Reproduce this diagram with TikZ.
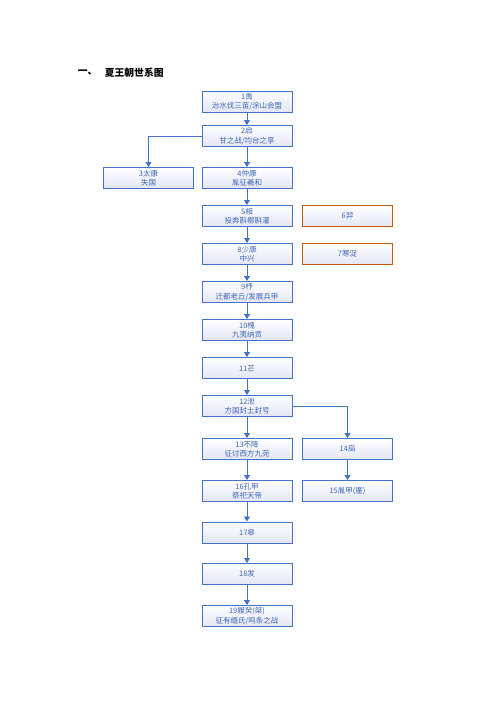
\documentclass[tikz,border=0pt]{standalone}
\usepackage{fontspec}
\newfontfamily\cjk{Noto Sans CJK SC}
\usetikzlibrary{arrows.meta, positioning}
\definecolor{cblue}{HTML}{4472C4}
\definecolor{ctext}{HTML}{4068B8}
\definecolor{corange}{HTML}{C55A11}
\definecolor{cshade}{HTML}{E3E6F2}
\tikzset{
  every picture/.style={line width=1pt},
  king/.style={draw=#1, top color=white, bottom color=cshade, align=center,
    inner sep=0pt, minimum width=90pt, minimum height=21pt, text=ctext,
    font=\cjk\fontsize{7.5}{9.5}\selectfont},
  king/.default=cblue,
  arrow/.style={-{Triangle[length=5pt, width=6pt]}, draw=cblue, line width=0.9pt},
  title/.style={font=\cjk\bfseries\fontsize{9.8}{11}\selectfont, anchor=west},
}
\begin{document}
\begin{tikzpicture}[x=1pt, y=-1pt]
  \useasboundingbox (0,0) rectangle (496,702);
  % title
  \node[title] (t1) at (74,73) {一、};
  \node[title] (t2) at (101,73) {夏王朝世系图};
  % main line
  \node[king] (n1) at (247,101.5) {1禹\\治水伐三苗/涂山会盟};
  \node[king] (n2) at (247,136) {2启\\甘之战/均台之享};
  \node[king] (n3) at (148.5,178) {3太康\\失国};
  \node[king] (n4) at (247,178) {4仲康\\胤征羲和};
  \node[king] (n5) at (247,216) {5相\\投奔斟鄩斟灌};
  \node[king=corange] (n6) at (347.5,216) {6羿};
  \node[king] (n8) at (247,254) {8少康\\中兴};
  \node[king=corange] (n7) at (347.5,254) {7寒浞};
  \node[king] (n9) at (247,292) {9杼\\迁都老丘/发展兵甲};
  \node[king] (n10) at (247,330) {10槐\\九夷纳贡};
  \node[king] (n11) at (247,368) {11芒};
  \node[king] (n12) at (247,406) {12泄\\方国封土封号};
  \node[king] (n13) at (247,449) {13不降\\征讨西方九苑};
  \node[king] (n14) at (347.5,449) {14扃};
  \node[king] (n16) at (247,491) {16孔甲\\祭祀天帝};
  \node[king] (n15) at (347.5,491) {15胤甲(廑)};
  \node[king] (n17) at (247,532.5) {17皋};
  \node[king] (n18) at (247,574) {18发};
  \node[king] (n19) at (247,616) {19履癸(桀)\\征有缗氏/鸣条之战};
  % succession
  \foreach \a/\b in {n1/n2, n2/n4, n4/n5, n5/n8, n8/n9, n9/n10, n10/n11,
    n11/n12, n12/n13, n13/n16, n16/n17, n17/n18, n18/n19, n14/n15}
    \draw[arrow] (\a) -- (\b);
  \draw[arrow] (n2.west) -| (n3.north);
  \draw[arrow] (n12.east) -| (n14.north);
\end{tikzpicture}
\end{document}
